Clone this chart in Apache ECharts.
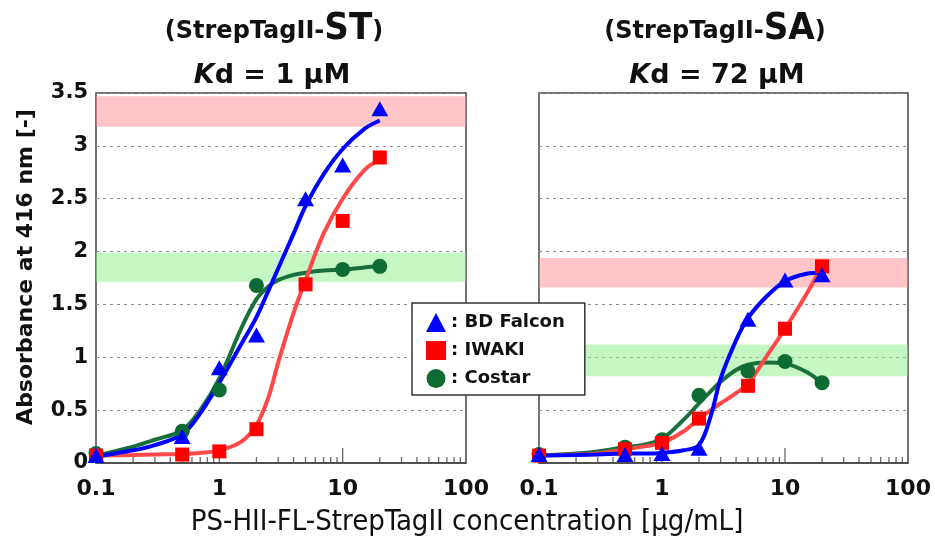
<!DOCTYPE html>
<html>
<head>
<meta charset="utf-8">
<script src="https://cdn.jsdelivr.net/npm/echarts@6/dist/echarts.min.js"></script>
<style>
html, body { margin: 0; padding: 0; background: #fff; }
#chart { width: 935px; height: 537px; }
</style>
</head>
<body>
<div id="chart"></div>
<script>
// measured concentrations [ug/mL]
const concPts = [0.1, 0.5, 1, 2, 5, 10, 20];
// StrepTagII-ST panel (Kd = 1 uM)
const stFalcon = [0.07, 0.25, 0.9, 1.21, 2.5, 2.82, 3.35];
const stIwaki  = [0.07, 0.08, 0.11, 0.32, 1.69, 2.29, 2.89];
const stCostar = [0.09, 0.3, 0.69, 1.68, null, 1.83, 1.86];
// StrepTagII-SA panel (Kd = 72 uM)
const saFalcon = [0.08, 0.08, 0.09, 0.14, 1.36, 1.73, 1.78];
const saIwaki  = [0.07, 0.13, 0.19, 0.42, 0.73, 1.27, 1.86];
const saCostar = [0.08, 0.15, 0.22, 0.64, 0.87, 0.96, 0.76];

// fitted curves
const fitX = [0.1, 0.2, 0.3, 0.5, 0.7, 1, 1.5, 2, 2.5, 3, 4, 5, 7, 10, 15, 20];
const stFalconFit = [0.06, 0.12, 0.17, 0.27, 0.47, 0.76, 1.12, 1.38, 1.63, 1.84, 2.17, 2.43, 2.73, 2.97, 3.16, 3.24];
const stIwakiFit  = [0.07, 0.075, 0.08, 0.085, 0.095, 0.12, 0.2, 0.36, 0.62, 0.95, 1.42, 1.73, 2.17, 2.5, 2.77, 2.87];
const stCostarFit = [0.07, 0.155, 0.22, 0.31, 0.5, 0.8, 1.27, 1.55, 1.67, 1.73, 1.78, 1.8, 1.82, 1.83, 1.85, 1.86];
const saFalconFit = [0.07, 0.075, 0.08, 0.09, 0.09, 0.095, 0.12, 0.17, 0.45, 0.8, 1.16, 1.37, 1.57, 1.72, 1.79, 1.8];
const saIwakiFit  = [0.07, 0.08, 0.09, 0.13, 0.155, 0.19, 0.3, 0.42, 0.5, 0.565, 0.66, 0.75, 1.0, 1.27, 1.6, 1.87];
const saCostarFit = [0.07, 0.09, 0.11, 0.15, 0.17, 0.23, 0.41, 0.565, 0.68, 0.77, 0.88, 0.93, 0.95, 0.94, 0.86, 0.755];

// shaded bands [from, to]
const stRedBand = [3.18, 3.47];
const stGreenBand = [1.715, 1.99];
const saRedBand = [1.66, 1.94];
const saGreenBand = [0.82, 1.12];

// x axis ticks
const minorTicks = [0.2, 0.3, 0.4, 0.5, 0.6, 0.7, 0.8, 0.9, 2, 3, 4, 5, 6, 7, 8, 9, 20, 30, 40, 50, 60, 70, 80, 90];
const majorTicks = [1, 10];

const FONT = 'DejaVu Sans';
const BLUE = '#0000ff', RED = '#ff0000', RED_LINE = '#ff4848', GREEN = '#0f6b34', GREEN_LINE = '#19703c';

const pairs = (xs, ys) => xs.map((x, i) => [x, ys[i]]).filter(p => p[1] != null);

function panelSeries(g, d) {
    const ax = { xAxisIndex: g, yAxisIndex: g };
    const band = (r, color) => [{ yAxis: r[0], itemStyle: { color } }, { yAxis: r[1] }];
    const fit = (name, ys, color) => ({
        type: 'line', name: name, ...ax, data: pairs(fitX, ys), smooth: 0.35,
        showSymbol: false, symbol: 'none', clip: false, z: 3, silent: true,
        lineStyle: { color, width: 4 }
    });
    const pts = (name, ys, symbol, size, color) => ({
        type: 'scatter', name: name, ...ax, data: pairs(concPts, ys),
        symbol, symbolSize: size, clip: false, z: 5,
        itemStyle: { color, opacity: 1 }
    });
    return [
        {
            type: 'scatter', ...ax, silent: true, z: 1,
            data: minorTicks.map(v => [v, 0]), symbol: 'rect',
            symbolSize: [1.3, 6], symbolOffset: [0, -3], itemStyle: { color: '#444' },
            markArea: {
                silent: true,
                data: [band(d.red, 'rgba(255,140,146,0.5)'), band(d.green, 'rgba(140,240,140,0.5)')]
            }
        },
        {
            type: 'scatter', ...ax, silent: true, z: 1,
            data: majorTicks.map(v => [v, 0]), symbol: 'rect',
            symbolSize: [1.3, 15], symbolOffset: [0, -7.5], itemStyle: { color: '#444' }
        },
        fit('fitC' + g, d.costarFit, GREEN_LINE),
        fit('fitI' + g, d.iwakiFit, RED_LINE),
        fit('fitF' + g, d.falconFit, BLUE),
        pts('Costar', d.costar, 'circle', 15, GREEN),
        pts('IWAKI', d.iwaki, 'rect', 14, RED),
        pts('BD Falcon', d.falcon, 'triangle', [17, 15], BLUE)
    ];
}

const xAxisBase = g => ({
    type: 'log', gridIndex: g, min: 0.1, max: 100, logBase: 10,
    axisLine: { show: true, lineStyle: { color: '#444', width: 1.5 } },
    axisTick: { show: false },
    splitLine: { show: false },
    axisLabel: { fontFamily: FONT, fontWeight: 'bold', fontSize: 22, color: '#111', margin: 15 }
});
const yAxisBase = (g, labels) => ({
    type: 'value', gridIndex: g, min: 0, max: 3.5, interval: 0.5,
    axisLine: { show: false }, axisTick: { show: false },
    splitLine: { show: true, lineStyle: { color: '#8a8a8a', type: [3, 4], width: 1 } },
    axisLabel: { show: labels, fontFamily: FONT, fontWeight: 'bold', fontSize: 21, color: '#111', margin: 8 }
});

const titleRich = {
    a: { fontFamily: FONT, fontWeight: 'bold', fontSize: 24, fill: '#111', padding: [0, 0, 4, 0], verticalAlign: 'bottom' },
    b: { fontFamily: 'Liberation Sans Narrow, DejaVu Sans Condensed', fontWeight: 'bold', fontSize: 38, fill: '#111', verticalAlign: 'bottom' },
    k: { fontFamily: FONT, fontWeight: 'bold', fontStyle: 'italic', fontSize: 27, fill: '#111' },
    d: { fontFamily: FONT, fontWeight: 'bold', fontSize: 27, fill: '#111' }
};
const titleText = (x, y, text) => ({
    type: 'text', x, y, silent: true,
    style: { text, rich: titleRich, align: 'center', verticalAlign: 'middle' }
});

const chart = echarts.init(document.getElementById('chart'));
chart.setOption({
    animation: false,
    backgroundColor: '#fff',
    grid: [
        { left: 96, right: 469, top: 93, bottom: 74, show: true, borderColor: '#444', borderWidth: 1.5 },
        { left: 539, right: 27, top: 93, bottom: 74, show: true, borderColor: '#444', borderWidth: 1.5 }
    ],
    xAxis: [xAxisBase(0), xAxisBase(1)],
    yAxis: [yAxisBase(0, true), yAxisBase(1, false)],
    legend: {
        data: ['BD Falcon', 'IWAKI', 'Costar'],
        orient: 'vertical', left: 412, top: 303,
        backgroundColor: '#fff', borderColor: '#333', borderWidth: 1.5,
        padding: [10, 20, 7, 14], itemGap: 9, itemWidth: 20, itemHeight: 19,
        formatter: name => ': ' + name,
        textStyle: { fontFamily: FONT, fontWeight: 'bold', fontSize: 18, color: '#111' },
        z: 10
    },
    graphic: [
        titleText(274, 29, '{a|(StrepTagII-}{b|ST}{a|)}'),
        titleText(272, 76, '{k|K}{d|d = 1 μM}'),
        titleText(715, 29, '{a|(StrepTagII-}{b|SA}{a|)}'),
        titleText(717, 76, '{k|K}{d|d = 72 μM}'),
        {
            type: 'text', x: 26, y: 267, rotation: Math.PI / 2, silent: true,
            style: {
                text: 'Absorbance at 416 nm [-]', align: 'center', verticalAlign: 'middle',
                font: 'bold 22px "DejaVu Sans"', fill: '#111'
            }
        },
        {
            type: 'text', x: 467, y: 522, silent: true,
            style: {
                text: 'PS-HII-FL-StrepTagII concentration [μg/mL]', align: 'center', verticalAlign: 'middle',
                font: '29px "DejaVu Sans Condensed"', fill: '#111'
            }
        }
    ],
    series: [
        ...panelSeries(0, {
            red: stRedBand, green: stGreenBand,
            falcon: stFalcon, iwaki: stIwaki, costar: stCostar,
            falconFit: stFalconFit, iwakiFit: stIwakiFit, costarFit: stCostarFit
        }),
        ...panelSeries(1, {
            red: saRedBand, green: saGreenBand,
            falcon: saFalcon, iwaki: saIwaki, costar: saCostar,
            falconFit: saFalconFit, iwakiFit: saIwakiFit, costarFit: saCostarFit
        })
    ]
});
window.addEventListener('resize', () => chart.resize());
</script>
</body>
</html>
